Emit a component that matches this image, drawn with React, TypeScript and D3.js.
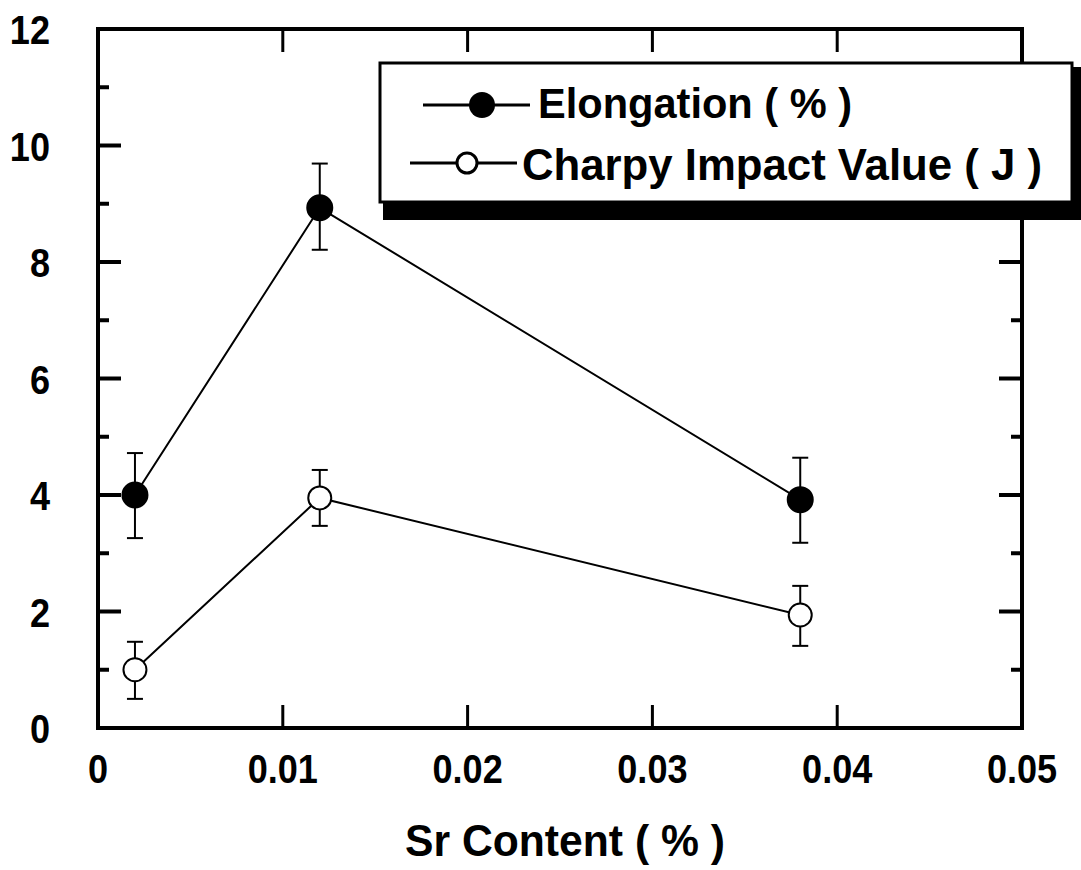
import React from "react";
import * as d3 from "d3";

const srContent = [0.002, 0.012, 0.038];
const elongation = [4.0, 8.93, 3.92];
const elongationLow = [3.26, 8.21, 3.18];
const elongationHigh = [4.72, 9.69, 4.64];
const charpy = [1.0, 3.95, 1.94];
const charpyLow = [0.5, 3.47, 1.41];
const charpyHigh = [1.48, 4.43, 2.44];
const xTicks = [0, 0.01, 0.02, 0.03, 0.04, 0.05];
const xTickLabels = ["0", "0.01", "0.02", "0.03", "0.04", "0.05"];
const yMajor = [0, 2, 4, 6, 8, 10, 12];
const yMinor = [1, 3, 5, 7, 9, 11];
const legendLabels = ["Elongation ( % )", "Charpy Impact Value ( J )"];
const xTitle = "Sr Content ( % )";

const W = 1081, H = 870;
const L = 98, R = 1022, T = 29, B = 728;
const FONT = "'Liberation Sans', Arial, Helvetica, sans-serif";

function CText({ x, y, anchor, size, sx, children }: any) {
  return (
    <g transform={`translate(${x},${y}) scale(${sx},1)`}>
      <text x={0} y={0} textAnchor={anchor} fontFamily={FONT} fontWeight="bold" fontSize={size}>{children}</text>
    </g>
  );
}

export default function App() {
  const x = d3.scaleLinear().domain([0, 0.05]).range([L, R]);
  const y = d3.scaleLinear().domain([0, 12]).range([B, T]);
  const line = d3.line<number>().x((_, i) => x(srContent[i])).y((d) => y(d));

  const series = [
    { vals: elongation, lo: elongationLow, hi: elongationHigh, filled: true },
    { vals: charpy, lo: charpyLow, hi: charpyHigh, filled: false },
  ];

  return (
    <svg width={W} height={H} style={{ position: "absolute", left: 0, top: 0, background: "#fff" }}>
      <rect x={0} y={0} width={W} height={H} fill="#fff" />
      {series.map((s, si) => (
        <g key={si}>
          <path d={line(s.vals) || ""} fill="none" stroke="#000" strokeWidth={2} />
          {s.vals.map((v, i) => {
            const cx = x(srContent[i]);
            return (
              <g key={i}>
                <line x1={cx} x2={cx} y1={y(s.hi[i])} y2={y(s.lo[i])} stroke="#000" strokeWidth={2} />
                <line x1={cx - 8} x2={cx + 8} y1={y(s.hi[i])} y2={y(s.hi[i])} stroke="#000" strokeWidth={2} />
                <line x1={cx - 8} x2={cx + 8} y1={y(s.lo[i])} y2={y(s.lo[i])} stroke="#000" strokeWidth={2} />
                <circle cx={cx} cy={y(v)} r={s.filled ? 12.5 : 11.5} fill={s.filled ? "#000" : "#fff"} stroke="#000" strokeWidth={2} />
              </g>
            );
          })}
        </g>
      ))}
      <rect x={L} y={T} width={R - L} height={B - T} fill="none" stroke="#000" strokeWidth={4} />
      {yMajor.map((v) => (
        <g key={"ym" + v}>
          <line x1={L} x2={L + 23} y1={y(v)} y2={y(v)} stroke="#000" strokeWidth={4} />
          <line x1={R} x2={R - 23} y1={y(v)} y2={y(v)} stroke="#000" strokeWidth={4} />
          <CText x={50} y={y(v) + 15} anchor="end" size={41} sx={0.88}>{v}</CText>
        </g>
      ))}
      {yMinor.map((v) => (
        <g key={"yn" + v}>
          <line x1={L} x2={L + 11} y1={y(v)} y2={y(v)} stroke="#000" strokeWidth={4} />
          <line x1={R} x2={R - 11} y1={y(v)} y2={y(v)} stroke="#000" strokeWidth={4} />
        </g>
      ))}
      {xTicks.map((v, i) => (
        <g key={"x" + v}>
          {i > 0 && i < xTicks.length - 1 && (
            <>
              <line x1={x(v)} x2={x(v)} y1={B} y2={B - 23} stroke="#000" strokeWidth={3} />
              <line x1={x(v)} x2={x(v)} y1={T} y2={T + 23} stroke="#000" strokeWidth={3} />
            </>
          )}
          <CText x={x(v)} y={783} anchor="middle" size={41} sx={0.88}>{xTickLabels[i]}</CText>
        </g>
      ))}
      <CText x={565} y={856} anchor="middle" size={44} sx={0.97}>{xTitle}</CText>
      {/* legend */}
      <rect x={383} y={67} width={698} height={153} fill="#000" />
      <rect x={380} y={63} width={692} height={139} fill="#fff" stroke="#000" strokeWidth={3} />
      <line x1={423} x2={530} y1={105} y2={105} stroke="#000" strokeWidth={3} />
      <circle cx={482} cy={105} r={13} fill="#000" />
      <text x={538} y={118} fontFamily={FONT} fontWeight="bold" fontSize={43} textLength={314} lengthAdjust="spacingAndGlyphs">{legendLabels[0]}</text>
      <line x1={410} x2={517} y1={163} y2={163} stroke="#000" strokeWidth={3} />
      <circle cx={467} cy={163} r={10} fill="#fff" stroke="#000" strokeWidth={3} />
      <text x={522} y={180} fontFamily={FONT} fontWeight="bold" fontSize={44} textLength={520} lengthAdjust="spacingAndGlyphs">{legendLabels[1]}</text>
    </svg>
  );
}
